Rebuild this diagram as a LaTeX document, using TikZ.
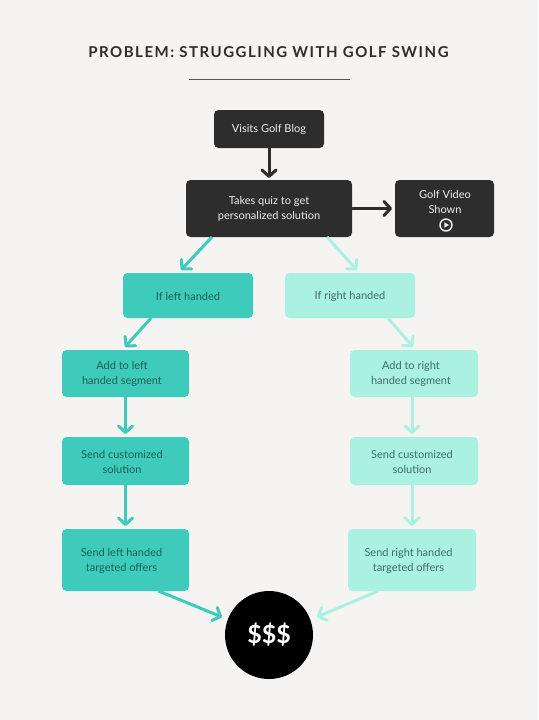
\documentclass[tikz,border=0pt]{standalone}
\usepackage{fontspec}
\setmainfont{Lato}
\newfontfamily\titlefont[LetterSpace=10]{Lato Bold}
\usetikzlibrary{arrows.meta,calc}
\definecolor{bgc}{HTML}{F5F4F2}
\definecolor{darkc}{HTML}{2D2D2D}
\definecolor{tealc}{HTML}{3ECBBB}
\definecolor{lightc}{HTML}{AAF1E1}
\definecolor{tealtxt}{HTML}{1D5F59}
\definecolor{lighttxt}{HTML}{3E6E69}
\definecolor{darktxt}{HTML}{EDEDED}
\tikzset{
  x=1pt,y=-1pt,
  box/.style={rounded corners=4.5pt,inner sep=0pt,outer sep=0pt,anchor=north west},
  lab/.style={font=\fontsize{11}{15}\selectfont,align=center,inner sep=0pt,yshift=-0.8pt},
  flow/.style={line width=3pt,-{Straight Barb[length=6.5pt,width=14pt,line width=3pt,round]},line cap=butt},
  darkflow/.style={flow,draw=darkc},
  tealflow/.style={flow,draw=tealc},
  lightflow/.style={flow,draw=lightc},
  tealbox/.style={box,fill=tealc},
  lightbox/.style={box,fill=lightc},
  darkfill/.style={box,fill=darkc},
  tlab/.style={lab,text=tealtxt},
  llab/.style={lab,text=lighttxt},
  dlab/.style={lab,text=darktxt},
}
\newcommand{\mybox}[9]{% style, labelstyle, name, x1,y1,x2,y2, shift, text
  \node[#1,minimum width=#6-#4,minimum height=#7-#5,label={[#2,#8]center:{#9}}] (#3) at (#4,#5) {};}
\begin{document}
\begin{tikzpicture}
\fill[bgc] (0,0) rectangle (538,720);
\useasboundingbox (0,0) rectangle (538,720);
\node[inner sep=0pt,font=\titlefont\fontsize{15}{16}\selectfont,text=darkc] (title) at (268.5,52) {PROBLEM: STRUGGLING WITH GOLF SWING};
\coordinate (ruleL) at (189,79.5);
\coordinate (ruleR) at (350,79.5);
\draw[line width=1pt,draw=darkc!80] (ruleL) -- (ruleR);
\mybox{darkfill}{dlab}{blog}{214}{110}{324}{148}{}{Visits Golf Blog}
\mybox{darkfill}{dlab}{quiz}{186}{180}{352}{237}{}{Takes quiz to get\\personalized solution}
\mybox{darkfill}{dlab}{video}{395}{180}{494}{237}{yshift=7.8pt,xshift=0.5pt}{Golf Video\\Shown}
\draw[draw=darktxt,line width=1.4pt] ([xshift=1.5pt,yshift=-16.5pt]video.center) circle (6pt);
\fill[darktxt] ([xshift=-0.1pt,yshift=-13.9pt]video.center) -- ([xshift=4.5pt,yshift=-16.5pt]video.center) -- ([xshift=-0.1pt,yshift=-19.1pt]video.center) -- cycle;
\mybox{tealbox}{tlab}{ifleft}{123}{273}{253}{318}{}{If left handed}
\mybox{lightbox}{llab}{ifright}{285}{273}{415}{318}{}{If right handed}
\mybox{tealbox}{tlab}{addleft}{62}{350}{189}{397}{xshift=-3.5pt}{Add to left\\handed segment}
\mybox{lightbox}{llab}{addright}{350}{350}{478}{397}{xshift=-3pt}{Add to right\\handed segment}
\mybox{tealbox}{tlab}{sendleft}{62}{437}{189}{485}{xshift=-3.5pt}{Send customized\\solution}
\mybox{lightbox}{llab}{sendright}{350}{437}{478}{485}{xshift=-2pt}{Send customized\\solution}
\mybox{tealbox}{tlab}{offerleft}{62}{529}{189}{591}{xshift=-4pt}{Send left handed\\targeted offers}
\mybox{lightbox}{llab}{offerright}{348}{529}{476}{591}{xshift=-3.5pt}{Send right handed\\targeted offers}
\node[circle,fill=black,minimum size=88pt,inner sep=0pt,text=white,font=\bfseries\fontsize{25}{28}\selectfont] (money) at (269,635) {\$\$\$};
\draw[darkflow] (blog.south) -- ([yshift=2pt]quiz.north);
\draw[darkflow] (quiz.east) -- ([xshift=-3pt]video.west);
\draw[tealflow] ([xshift=-57pt]quiz.south) -- ([xshift=-7pt,yshift=3pt]ifleft.north);
\draw[lightflow] ([xshift=58pt]quiz.south) -- ([xshift=7pt,yshift=3pt]ifright.north);
\draw[tealflow] ([xshift=-37pt]ifleft.south) -- ([xshift=-0.5pt,yshift=3pt]addleft.north);
\draw[lightflow] ([xshift=38pt]ifright.south) -- ([xshift=-1pt,yshift=3pt]addright.north);
\draw[tealflow] (addleft.south) -- ([yshift=3pt]sendleft.north);
\draw[lightflow] ([xshift=-2pt]addright.south) -- ([xshift=-2pt,yshift=3pt]sendright.north);
\draw[tealflow] (sendleft.south) -- ([yshift=3pt]offerleft.north);
\draw[lightflow] ([xshift=-2pt]sendright.south) -- ([yshift=3pt]offerright.north);
\draw[tealflow] ([xshift=33pt]offerleft.south) -- ([xshift=-47pt,yshift=18pt]money.center);
\draw[lightflow] ([xshift=-34pt]offerright.south) -- ([xshift=48pt,yshift=18pt]money.center);
\end{tikzpicture}
\end{document}
